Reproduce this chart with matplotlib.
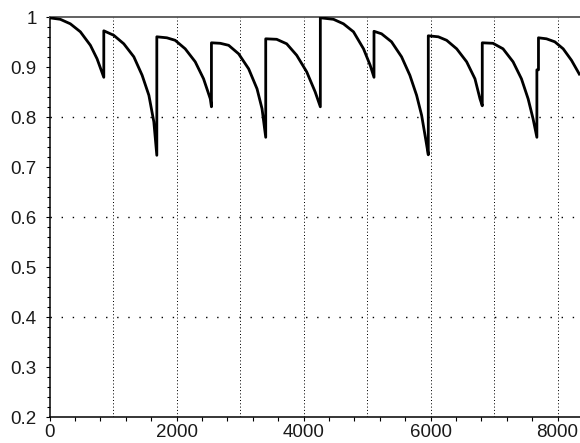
import matplotlib
matplotlib.use("Agg")
import matplotlib.pyplot as plt
from matplotlib.ticker import MultipleLocator, FixedLocator, FuncFormatter
import numpy as np

# Curve (operating time vs. reliability), jumps at maintenance
time = [0, 170, 328, 486, 644, 749, 855,
        855, 1012, 1170, 1328, 1459, 1565, 1643, 1690,
        1690, 1848, 1979, 2137, 2295, 2426, 2532, 2550,
        2550, 2689, 2821, 2978, 3136, 3268, 3347, 3405,
        3405, 3577, 3735, 3893, 4050, 4183, 4265,
        4265, 4472, 4629, 4787, 4945, 5050, 5110,
        5110, 5229, 5386, 5544, 5675, 5781, 5860, 5923, 5965,
        5965, 6123, 6254, 6412, 6569, 6700, 6779, 6815,
        6815, 6984, 7142, 7300, 7432, 7537, 7615, 7675,
        7675, 7700, 7700, 7826, 7957, 8089, 8220, 8354]
reliability = [0.999, 0.996, 0.987, 0.971, 0.944, 0.917, 0.880,
               0.973, 0.964, 0.947, 0.921, 0.884, 0.844, 0.791, 0.724,
               0.961, 0.959, 0.954, 0.937, 0.911, 0.877, 0.837, 0.821,
               0.949, 0.948, 0.944, 0.927, 0.897, 0.857, 0.817, 0.760,
               0.957, 0.956, 0.947, 0.924, 0.891, 0.851, 0.821,
               0.999, 0.996, 0.987, 0.971, 0.937, 0.904, 0.880,
               0.972, 0.967, 0.951, 0.921, 0.884, 0.844, 0.804, 0.757, 0.725,
               0.963, 0.961, 0.954, 0.937, 0.911, 0.877, 0.837, 0.823,
               0.949, 0.948, 0.937, 0.911, 0.877, 0.837, 0.797, 0.760,
               0.895, 0.895, 0.959, 0.957, 0.951, 0.937, 0.914, 0.884]

x_major_ticks = [0, 2000, 4000, 6000, 8000]
y_major_ticks = [0.2, 0.3, 0.4, 0.5, 0.6, 0.7, 0.8, 0.9, 1.0]
y_tick_labels = ["0.2", "0.3", "0.4", "0.5", "0.6", "0.7", "0.8", "0.9", "1"]
x_grid = [1000, 2000, 3000, 4000, 5000, 6000, 7000, 8000]
y_grid = [0.4, 0.6, 0.8]

plt.rcParams['font.family'] = ['Liberation Sans', 'DejaVu Sans']

fig = plt.figure(figsize=(5.8, 4.43), dpi=100)
fig.patch.set_facecolor("white")
ax = fig.add_axes([49.5 / 580, 1 - 417.3 / 443, 1 - 49.5 / 580, 400 / 443])

ax.set_xlim(0, 8354)
ax.set_ylim(0.2, 1.0)

for gx in x_grid:
    ax.axvline(gx, color="black", lw=0.72, linestyle=(0, (1, 2.3)), zorder=1)
for gy in y_grid:
    ax.axhline(gy, color="black", lw=1.0, linestyle=(0, (1, 7)), zorder=1)

ax.plot(time, reliability, color="black", lw=2.0, solid_joinstyle="round",
        solid_capstyle="butt", zorder=3)

ax.xaxis.set_major_locator(FixedLocator(x_major_ticks))
ax.xaxis.set_minor_locator(MultipleLocator(400))
ax.yaxis.set_major_locator(FixedLocator(y_major_ticks))
ax.set_yticklabels(y_tick_labels)
ax.yaxis.set_minor_locator(MultipleLocator(0.02))

ax.tick_params(axis="both", which="both", direction="out", color="black",
               width=0.8, labelsize=13.5, labelcolor="#1a1a1a")
ax.tick_params(axis="y", which="major", length=3.2, pad=6)
ax.tick_params(axis="y", which="minor", length=2.4)
ax.tick_params(axis="x", which="major", length=3.0, pad=1.5)
ax.tick_params(axis="x", which="minor", length=3.0)

for side in ["left", "bottom"]:
    ax.spines[side].set_color("black")
    ax.spines[side].set_linewidth(1.1)
ax.spines["top"].set_color("#555555")
ax.spines["top"].set_linewidth(1.3)
ax.spines["right"].set_visible(False)

fig.savefig("out.png", dpi=100, facecolor="white")
